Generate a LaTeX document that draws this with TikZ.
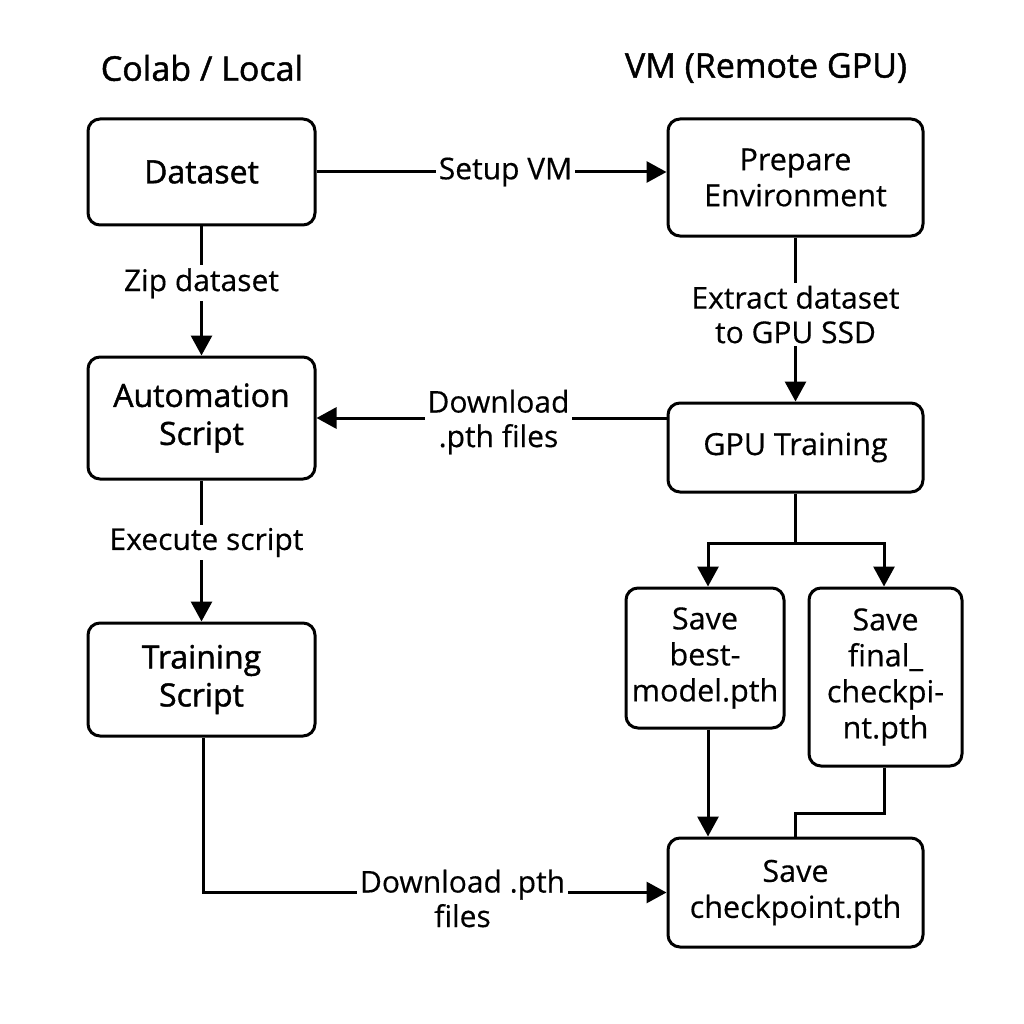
\documentclass[tikz,border=0pt]{standalone}
\usepackage{fontspec}
\setmainfont{Open Sans}[FakeBold=0.4]
\newfontfamily\medfont{Open Sans}[FakeBold=1.3]
\usetikzlibrary{arrows.meta}
\begin{document}
\begin{tikzpicture}[x=1pt,y=-1pt,
  box/.style={draw, line width=3pt, rounded corners=12pt, align=center, inner sep=0pt,
    font=\fontsize{30.5}{36}\selectfont},
  medbox/.style={box, font=\fontsize{32}{38}\selectfont\medfont},
  lbl/.style={fill=white, align=center, inner sep=3pt, font=\fontsize{30}{34.5}\selectfont},
  title/.style={font=\fontsize{34}{38}\selectfont\medfont},
  conn/.style={line width=3pt},
  arr/.style={conn, -{Triangle[length=20pt,width=21pt]}}]
\useasboundingbox (0,0) rectangle (1024,1024);
\fill[white] (0,0) rectangle (1024,1024);

\node[title] (t1) at (202,68) {Colab / Local};
\node[title] (t2) at (766,68) {VM (Remote GPU)};

\node[medbox, minimum width=227pt, minimum height=106pt] (ds) at (201.5,172) {Dataset};
\node[box, minimum width=255pt, minimum height=117pt] (pe) at (795.5,177.5) {Prepare\\Environment};
\node[medbox, minimum width=227pt, minimum height=122pt] (as) at (201.5,418) {Automation\\Script};
\node[box, minimum width=255pt, minimum height=89pt] (gt) at (795.5,447.5) {GPU Training};
\node[medbox, minimum width=227pt, minimum height=113pt] (ts) at (201.5,679.5) {Training\\Script};
\node[box, minimum width=158pt, minimum height=140pt] (bm) at (705,658) {Save\\best-\\model.pth};
\node[box, minimum width=153pt, minimum height=178pt] (fc) at (885.5,677) {Save\\final\_\\checkpi-\\nt.pth};
\node[box, minimum width=255pt, minimum height=109pt] (sc) at (795.5,892.5) {Save\\checkpoint.pth};

\draw[arr] (ds.east) -- node[lbl, pos=0.54] (l1) {Setup VM} (pe.west |- ds.east);
\draw[arr] (ds.south) -- node[lbl, pos=0.44] (l2) {Zip dataset} (as.north);
\draw[arr] (pe.south) -- node[lbl, pos=0.47] (l3) {Extract dataset\\to GPU SSD} (gt.north);
\draw[arr] (gt.west |- as.east) -- node[lbl, pos=0.48, yshift=-4pt] (l4) {Download\\.pth files} (as.east);
\draw[arr] (as.south) -- node[lbl, pos=0.44, xshift=5pt] (l5) {Execute script} (ts.north);

\coordinate (split) at (795.5,543);
\draw[conn] (gt.south) -- (split);
\draw[arr] (split) -| ([xshift=3pt]bm.north);
\draw[arr] (split) -| ([xshift=-1.5pt]fc.north);
\draw[arr] ([xshift=3pt]bm.south) -- ([xshift=3pt]bm.south |- sc.north);
\coordinate (fcj) at ([xshift=-1.5pt,yshift=-46pt]fc.south);
\draw[conn] ([xshift=-1.5pt]fc.south) -- (fcj) -| (sc.north);
\draw[arr] ([xshift=1.5pt]ts.south) |- node[lbl, pos=0.78, yshift=-6pt] (l6) {Download .pth\\files} (sc.west);
\end{tikzpicture}
\end{document}
